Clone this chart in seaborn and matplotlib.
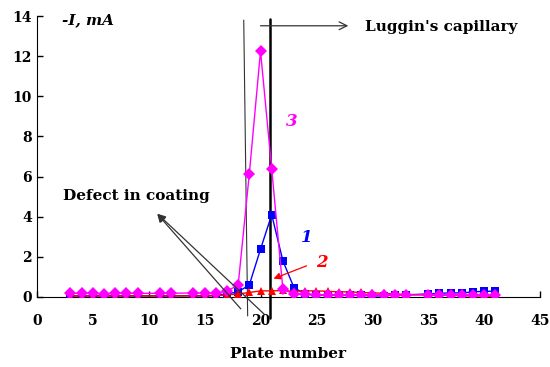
import matplotlib; matplotlib.use('Agg')
import matplotlib.pyplot as plt
import seaborn as sns
import pandas as pd

# plate numbers (10, 13 and 34 not measured)
plates = [3, 4, 5, 6, 7, 8, 9, 11, 12, 14, 15, 16, 17, 18, 19, 20, 21, 22, 23, 24,
          25, 26, 27, 28, 29, 30, 31, 32, 33, 35, 36, 37, 38, 39, 40, 41]
curve1 = [0.05, 0.05, 0.05, 0.05, 0.05, 0.05, 0.05, 0.05, 0.05, 0.06, 0.05, 0.08, 0.15, 0.25,
          0.6, 2.38, 4.1, 1.8, 0.45, 0.15, 0.1, 0.08, 0.08, 0.08, 0.08, 0.05, 0.05, 0.1, 0.1,
          0.15, 0.18, 0.2, 0.2, 0.25, 0.28, 0.28]
curve2 = [0.05, 0.05, 0.05, 0.05, 0.05, 0.05, 0.05, 0.05, 0.05, 0.05, 0.05, 0.06, 0.1, 0.15,
          0.22, 0.3, 0.3, 0.32, 0.28, 0.3, 0.3, 0.28, 0.25, 0.25, 0.22, 0.2, 0.18, 0.15, 0.12,
          0.1, 0.08, 0.08, 0.06, 0.05, 0.04, 0.03]
curve3 = [0.18, 0.18, 0.18, 0.15, 0.18, 0.18, 0.18, 0.18, 0.18, 0.2, 0.18, 0.18, 0.3, 0.58,
          6.15, 12.25, 6.38, 0.38, 0.15, 0.12, 0.1, 0.1, 0.1, 0.1, 0.1, 0.1, 0.1, 0.1, 0.1,
          0.1, 0.1, 0.1, 0.1, 0.1, 0.1, 0.1]

df = pd.DataFrame({'plate': plates * 3,
                   'I': curve1 + curve2 + curve3,
                   'curve': ['1'] * len(plates) + ['2'] * len(plates) + ['3'] * len(plates)})

sns.set_style('ticks')
plt.rcParams['font.family'] = ['DejaVu Serif']
plt.rcParams['font.weight'] = 'bold'
for k in ['text.color', 'axes.labelcolor', 'xtick.color', 'ytick.color', 'axes.edgecolor']:
    plt.rcParams[k] = 'black'

fig = plt.figure(figsize=(5.5, 3.67), dpi=100)
ax = fig.add_axes([0.067, 0.191, 0.915, 0.765])

pal = {'1': '#0000FF', '2': '#FF0000', '3': '#FF00FF'}
sns.lineplot(data=df, x='plate', y='I', hue='curve', style='curve', palette=pal,
             markers={'1': 's', '2': '^', '3': 'D'}, dashes=False, markersize=6,
             markeredgewidth=0, linewidth=1, legend=False, ax=ax, zorder=3)

ax.set_xlim(0, 45); ax.set_ylim(0, 14)
ax.set_xticks(range(0, 46, 5)); ax.set_yticks(range(0, 15, 2))
ax.tick_params(direction='in', length=4, labelsize=10, width=1)
for lbl in ax.get_xticklabels() + ax.get_yticklabels():
    lbl.set_fontweight('bold')
ax.xaxis.set_tick_params(pad=12)
sns.despine(ax=ax)
ax.set_xlabel('Plate number', fontsize=11, fontweight='bold', labelpad=14)
ax.set_ylabel('')

# defect and Luggin's capillary lines
ax.plot([18.5, 18.85], [13.8, -0.95], color='#333333', lw=0.8, clip_on=False)
ax.plot([20.85, 20.85], [13.85, -1.05], color='black', lw=1.8, clip_on=False)
ax.annotate('', xy=(28.1, 13.52), xytext=(19.75, 13.52),
            arrowprops=dict(arrowstyle='->', color='#333333', lw=0.9, mutation_scale=14))
ax.text(29.3, 13.45, "Luggin's capillary", fontsize=11, fontweight='bold', va='center')

ax.text(2.35, 5.03, 'Defect in coating', fontsize=11, fontweight='bold', va='center')
for tail in [(18.4, -0.7), (20.5, -0.95)]:
    ax.annotate('', xy=(10.6, 4.24), xytext=tail, annotation_clip=False,
                arrowprops=dict(arrowstyle='-|>', color='#333333', lw=0.9, mutation_scale=12))

ax.text(2.25, 13.8, '-I, mA', fontsize=11, fontweight='bold', style='italic', va='center')
ax.text(22.3, 8.77, '3', color='#FF00FF', fontsize=12, fontweight='bold', style='italic', va='center')
ax.text(23.6, 2.94, '1', color='#0000FF', fontsize=12, fontweight='bold', style='italic', va='center')
ax.text(25.0, 1.74, '2', color='#FF0000', fontsize=12, fontweight='bold', style='italic', va='center')
ax.annotate('', xy=(20.93, 0.86), xytext=(24.35, 1.6),
            arrowprops=dict(arrowstyle='-|>', color='#FF0000', lw=0.9, mutation_scale=10))

plt.savefig('out.png', dpi=100)
